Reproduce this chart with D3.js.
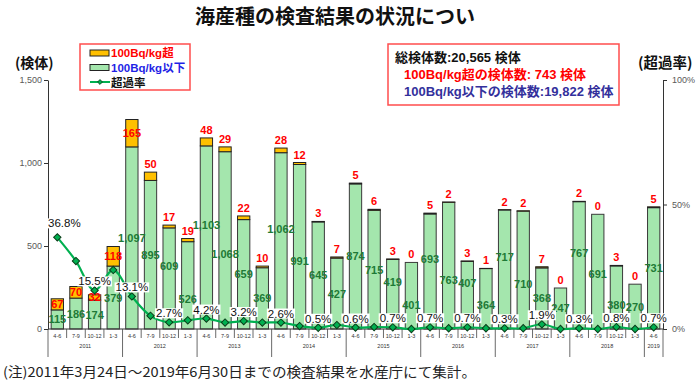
<!DOCTYPE html>
<html>
<head>
<meta charset="utf-8">
<script src="https://cdn.jsdelivr.net/npm/d3@7"></script>
<style>
  body { margin: 0; background: #fff; }
  svg { display: block; }
  text { font-family: "Liberation Sans", Arial, "Noto Sans CJK JP", sans-serif; }
  .jp { font-family: "Noto Sans CJK JP", "Liberation Sans", sans-serif; }
</style>
</head>
<body>
<svg id="chart" width="700" height="385"></svg>
<script>
// quarter of each bar and the fiscal year it belongs to
const quarters = [
  '4-6','7-9','10-12','1-3', '4-6','7-9','10-12','1-3', '4-6','7-9','10-12','1-3',
  '4-6','7-9','10-12','1-3', '4-6','7-9','10-12','1-3', '4-6','7-9','10-12','1-3',
  '4-6','7-9','10-12','1-3', '4-6','7-9','10-12','1-3', '4-6'
];
const periodYear = [
  '2011','2011','2011','2011', '2012','2012','2012','2012', '2013','2013','2013','2013',
  '2014','2014','2014','2014', '2015','2015','2015','2015', '2016','2016','2016','2016',
  '2017','2017','2017','2017', '2018','2018','2018','2018', '2019'
];
// samples at or below 100Bq/kg
const below = [
  115, 186, 174, 379, 1097, 895, 609, 526, 1103, 1068, 659, 369,
  1062, 991, 645, 427, 874, 715, 419, 401, 693, 763, 407, 364,
  717, 710, 368, 247, 767, 691, 380, 270, 731
];
// samples above 100Bq/kg
const over = [
  67, 70, 32, 118, 165, 50, 17, 19, 48, 29, 22, 10,
  28, 12, 3, 7, 5, 6, 3, 0, 5, 2, 3, 1,
  2, 2, 7, 0, 2, 0, 3, 0, 5
];
// exceedance rate (%)
const rate = [
  36.8, 27.3, 15.5, 23.7, 13.1, 5.3, 2.7, 3.5, 4.2, 2.6, 3.2, 2.6,
  2.6, 1.2, 0.5, 1.6, 0.6, 0.8, 0.7, 0.0, 0.7, 0.3, 0.7, 0.3,
  0.3, 0.3, 1.9, 0.0, 0.3, 0.0, 0.8, 0.0, 0.7
];
const leftTicks = [0, 500, 1000, 1500];
const rightTicks = [0, 50, 100];

const COL = {
  green: '#a4e6ad',
  orange: '#ffc000',
  barStroke: '#3a3a3a',
  line: '#00b050',
  greenText: '#1e7a36',
  red: '#ff0000',
  blue: '#1f1fe6',
  navy: '#33309c',
  box: '#ff4d4d',
  axisText: '#595959'
};

const svg = d3.select('#chart');
const X0 = 48, X1 = 663, Y0 = 329, Y1 = 80;

const idx = d3.range(below.length);
const x = d3.scaleBand().domain(idx).range([X0, X1]).paddingInner(0.34).paddingOuter(0.17);
const step = x.step();
const y = d3.scaleLinear().domain([0, 1500]).range([Y0, Y1]);
const yR = d3.scaleLinear().domain([0, 100]).range([Y0, Y1]);
const cx = i => x(i) + x.bandwidth() / 2;

// title
svg.append('text').attr('class', 'jp')
  .attr('x', 195).attr('y', 24)
  .attr('font-size', 20).attr('font-weight', 700).attr('fill', '#111')
  .text('海産種の検査結果の状況につい');

// axis titles
svg.append('text').attr('class', 'jp').attr('x', 15).attr('y', 68)
  .attr('font-size', 14).attr('font-weight', 700).attr('fill', '#111').text('(検体)');
svg.append('text').attr('class', 'jp').attr('x', 638).attr('y', 68)
  .attr('font-size', 14.5).attr('font-weight', 700).attr('fill', '#111').text('(超過率)');

// left axis
const gL = svg.append('g').attr('transform', `translate(${X0},0)`)
  .call(d3.axisLeft(y).tickValues(leftTicks).tickSize(4).tickSizeOuter(0).tickFormat(d3.format(',')));
gL.select('.domain').attr('stroke', '#333');
gL.selectAll('.tick line').attr('stroke', '#333');
gL.selectAll('.tick text').attr('fill', COL.axisText).attr('font-size', 9).attr('x', -6);

// right axis
const gR = svg.append('g').attr('transform', `translate(${X1},0)`)
  .call(d3.axisRight(yR).tickValues(rightTicks).tickSize(4).tickSizeOuter(0)
    .tickFormat(d => d + '%'));
gR.select('.domain').attr('stroke', '#333');
gR.selectAll('.tick line').attr('stroke', '#333');
gR.selectAll('.tick text').attr('fill', COL.axisText).attr('font-size', 9).attr('x', 9);

// bars
const bars = svg.append('g');
bars.selectAll('.b-below').data(idx).enter().append('rect')
  .attr('x', i => x(i)).attr('width', x.bandwidth())
  .attr('y', i => y(below[i])).attr('height', i => Y0 - y(below[i]))
  .attr('fill', COL.green).attr('stroke', COL.barStroke).attr('stroke-width', 1);
bars.selectAll('.b-over').data(idx.filter(i => over[i] > 0)).enter().append('rect')
  .attr('x', i => x(i)).attr('width', x.bandwidth())
  .attr('y', i => y(below[i] + over[i])).attr('height', i => y(below[i]) - y(below[i] + over[i]))
  .attr('fill', COL.orange).attr('stroke', '#222').attr('stroke-width', 1);

// bottom axis: baseline, separators, quarter and year labels
svg.append('line').attr('x1', X0).attr('x2', X1).attr('y1', Y0).attr('y2', Y0)
  .attr('stroke', '#333');
const bounds = d3.range(below.length + 1);
svg.append('g').selectAll('line').data(bounds).enter().append('line')
  .attr('x1', i => X0 + i * step).attr('x2', i => X0 + i * step)
  .attr('y1', Y0)
  .attr('y2', i => (i === 0 || i === below.length || periodYear[i] !== periodYear[i - 1]) ? 357 : 338)
  .attr('stroke', '#444').attr('stroke-width', 0.8);
svg.append('g').selectAll('text').data(idx).enter().append('text')
  .attr('x', cx).attr('y', 338)
  .attr('text-anchor', 'middle').attr('font-size', 5.5).attr('fill', '#333')
  .text(i => quarters[i]);
const yearList = Array.from(new Set(periodYear));
svg.append('g').selectAll('text').data(yearList).enter().append('text')
  .attr('x', yr => {
    const first = periodYear.indexOf(yr), last = periodYear.lastIndexOf(yr);
    return X0 + (first + last + 1) / 2 * step;
  })
  .attr('y', 348).attr('text-anchor', 'middle').attr('font-size', 5.5).attr('fill', '#333')
  .text(yr => yr);

// value labels (below 100Bq/kg, centred in the green part; tall neighbours nudged apart)
const greenLabels = svg.append('g').selectAll('text').data(idx).enter().append('text')
  .attr('x', cx)
  .attr('y', i => y(below[i] / 2) + 4)
  .attr('text-anchor', 'middle').attr('font-size', 11).attr('font-weight', 700)
  .attr('fill', COL.greenText)
  .text(i => d3.format(',')(below[i]));
const gNodes = greenLabels.nodes();
const GAP = 2;
for (let i = 1; i < gNodes.length; i++) {
  if (below[i - 1] < 300 || below[i] < 300) continue;
  const a = gNodes[i - 1].getBBox(), b = gNodes[i].getBBox();
  const hit = a.x + a.width + GAP > b.x && b.x + b.width + GAP > a.x &&
              a.y + a.height > b.y && b.y + b.height > a.y;
  if (hit) {
    d3.select(gNodes[i - 1]).attr('y', +gNodes[i - 1].getAttribute('y') - 12);
    d3.select(gNodes[i]).attr('y', Math.min(+gNodes[i].getAttribute('y') + 14, Y0 - 20));
  }
}

// value labels (over 100Bq/kg)
svg.append('g').selectAll('text').data(idx).enter().append('text')
  .attr('x', cx)
  .attr('y', i => i < 5 ? y(below[i] + over[i] / 2) + 4 : y(below[i] + over[i]) - 4)
  .attr('text-anchor', 'middle').attr('font-size', 11).attr('font-weight', 700)
  .attr('fill', COL.red)
  .text(i => over[i]);

// exceedance rate line
svg.append('path').datum(idx)
  .attr('d', d3.line().x(cx).y(i => yR(rate[i])).curve(d3.curveCatmullRom.alpha(0.5)))
  .attr('fill', 'none').attr('stroke', COL.line).attr('stroke-width', 2.2);
svg.append('g').selectAll('path').data(idx).enter().append('path')
  .attr('d', d3.symbol(d3.symbolSquare, 27))
  .attr('transform', i => `translate(${cx(i)},${yR(rate[i])}) rotate(45)`)
  .attr('fill', COL.line).attr('stroke', '#0b3d1a').attr('stroke-width', 1);

// rate labels on every other point, on a white box
const rl = svg.append('g').selectAll('g').data(idx.filter(i => i % 2 === 0)).enter().append('g')
  .attr('transform', i => `translate(${cx(i) + (i === 0 ? 7 : 0)},${yR(rate[i]) - (i === 0 ? 14 : 9)})`);
rl.append('text')
  .attr('text-anchor', 'middle').attr('y', 4)
  .attr('font-size', 11.5).attr('fill', '#111')
  .text(i => rate[i].toFixed(1) + '%');
rl.each(function () {
  const g = d3.select(this);
  const bb = g.select('text').node().getBBox();
  g.insert('rect', 'text')
    .attr('x', bb.x - 1).attr('y', bb.y + 1).attr('width', bb.width + 2).attr('height', bb.height - 2)
    .attr('fill', '#fff');
});

// legend
const lg = svg.append('g');
lg.append('rect').attr('x', 80).attr('y', 44).attr('width', 110).attr('height', 46)
  .attr('fill', '#fff').attr('stroke', COL.box).attr('stroke-width', 1.5);
lg.append('rect').attr('x', 90).attr('y', 50).attr('width', 19).attr('height', 6)
  .attr('fill', COL.orange).attr('stroke', '#222');
lg.append('rect').attr('x', 90).attr('y', 64.5).attr('width', 19).attr('height', 6)
  .attr('fill', COL.green).attr('stroke', '#222');
lg.append('line').attr('x1', 90).attr('x2', 110).attr('y1', 82).attr('y2', 82)
  .attr('stroke', COL.line).attr('stroke-width', 2);
lg.append('path').attr('d', d3.symbol(d3.symbolSquare, 12))
  .attr('transform', 'translate(100,82) rotate(45)')
  .attr('fill', COL.line).attr('stroke', '#0b3d1a').attr('stroke-width', 0.8);
[['100Bq/kg超', 57, COL.red], ['100Bq/kg以下', 72, COL.blue], ['超過率', 86.5, '#111']]
  .forEach(([t, ty, c]) => {
    lg.append('text').attr('x', 111).attr('y', ty)
      .attr('font-size', 11.5).attr('font-weight', 700).attr('fill', c).text(t);
  });

// summary box
const sumOver = d3.sum(over), sumBelow = d3.sum(below);
const fmt = d3.format(',');
const ib = svg.append('g');
ib.append('rect').attr('x', 388).attr('y', 44).attr('width', 231).attr('height', 61)
  .attr('fill', '#fff').attr('stroke', COL.box).attr('stroke-width', 1.5);
[
  [`総検体数:${fmt(sumOver + sumBelow)} 検体`, 395, 62, '#111'],
  [`100Bq/kg超の検体数: ${fmt(sumOver)} 検体`, 404, 79, COL.red],
  [`100Bq/kg以下の検体数:${fmt(sumBelow)} 検体`, 404, 96, COL.navy]
].forEach(([t, tx, ty, c]) => {
  ib.append('text').attr('x', tx).attr('y', ty)
    .attr('font-size', 13).attr('font-weight', 700).attr('fill', c).text(t);
});

// footnote
svg.append('text').attr('class', 'jp').attr('x', 3).attr('y', 377)
  .attr('font-size', 13.5).attr('fill', '#222')
  .attr('textLength', 473).attr('lengthAdjust', 'spacingAndGlyphs')
  .text('(注)2011年3月24日～2019年6月30日までの検査結果を水産庁にて集計。');
</script>
</body>
</html>
